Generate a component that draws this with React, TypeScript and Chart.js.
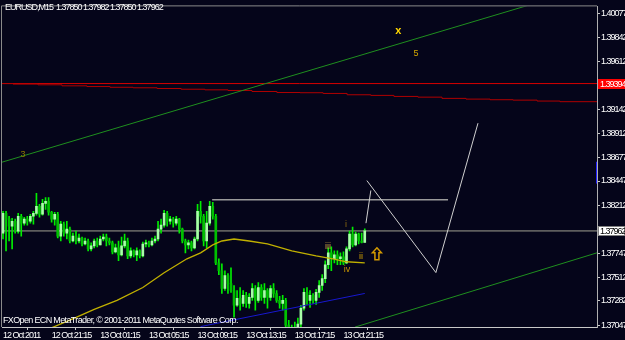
import React, { useEffect, useRef } from 'react';
import { Chart, registerables } from 'chart.js';

Chart.register(...registerables);

const FONT = "'Liberation Sans', 'DejaVu Sans', sans-serif";

const chartTitle = 'EURUSD,M15  1.37850 1.37982 1.37850 1.37962';
const copyrightText = 'FXOpen ECN MetaTrader, \u00A9 2001-2011 MetaQuotes Software Corp.';

const timeLabelBars = [0, 16, 32, 48, 64, 80, 96, 112];
const timeLabels = ['12 Oct 2011', '12 Oct 21:15', '13 Oct 01:15', '13 Oct 05:15', '13 Oct 09:15', '13 Oct 13:15', '13 Oct 17:15', '13 Oct 21:15'];
const priceTicks = [1.40077, 1.39842, 1.39612, 1.39142, 1.38912, 1.38677, 1.38447, 1.38212, 1.37747, 1.37512, 1.37282, 1.37047];

const opens = [
  1.37941, 1.38133, 1.38076, 1.38008, 1.38056, 1.37960, 1.38104, 1.38037, 1.38076, 1.38056,
  1.38104, 1.38133, 1.38201, 1.38124, 1.38230, 1.38249, 1.38143, 1.38076, 1.38124, 1.37912,
  1.38028, 1.37941, 1.37979, 1.37864, 1.37912, 1.37864, 1.37893, 1.37835, 1.37864, 1.37787,
  1.37816, 1.37864, 1.37826, 1.37883, 1.37902, 1.37864, 1.37845, 1.37758, 1.37797, 1.37729,
  1.37816, 1.37864, 1.37720, 1.37768, 1.37729, 1.37768, 1.37720, 1.37835, 1.37845, 1.37826,
  1.37864, 1.37883, 1.37979, 1.38018, 1.38133, 1.38056, 1.38076, 1.38037, 1.38076, 1.37979,
  1.37864, 1.37826, 1.37845, 1.37797, 1.37883, 1.38153, 1.38104, 1.37864, 1.38037, 1.38201,
  1.38104, 1.37652, 1.37575, 1.37402, 1.37527, 1.37450, 1.37383, 1.37239, 1.37306, 1.37258,
  1.37335, 1.37258, 1.37316, 1.37402, 1.37287, 1.37412, 1.37316, 1.37383, 1.37316, 1.37402,
  1.37354, 1.37287, 1.37258, 1.37287, 1.37046, 1.36998, 1.36979, 1.37017, 1.37056, 1.37210,
  1.37364, 1.37287, 1.37335, 1.37287, 1.37364, 1.37431, 1.37498, 1.37633, 1.37749, 1.37691,
  1.37729, 1.37691, 1.37710, 1.37652, 1.37787, 1.37931, 1.37826, 1.37931, 1.37864, 1.37850,
];
const highs = [
  1.38153, 1.38153, 1.38104, 1.38085, 1.38076, 1.38133, 1.38124, 1.38095, 1.38104, 1.38124,
  1.38153, 1.38326, 1.38220, 1.38268, 1.38287, 1.38287, 1.38153, 1.38143, 1.38143, 1.38056,
  1.38047, 1.38056, 1.37999, 1.37941, 1.37960, 1.37931, 1.37902, 1.37893, 1.37883, 1.37845,
  1.37883, 1.37893, 1.37912, 1.37931, 1.37931, 1.37893, 1.37864, 1.37835, 1.37864, 1.37902,
  1.37931, 1.37893, 1.37797, 1.37777, 1.37797, 1.37777, 1.37854, 1.37874, 1.37864, 1.37893,
  1.37912, 1.38056, 1.38076, 1.38162, 1.38153, 1.38104, 1.38095, 1.38104, 1.38085, 1.37989,
  1.37883, 1.37874, 1.37864, 1.37902, 1.38220, 1.38249, 1.38124, 1.38153, 1.38249, 1.38239,
  1.38124, 1.37691, 1.37643, 1.37575, 1.37547, 1.37604, 1.37431, 1.37383, 1.37412, 1.37383,
  1.37364, 1.37354, 1.37450, 1.37431, 1.37460, 1.37441, 1.37450, 1.37402, 1.37431, 1.37450,
  1.37383, 1.37325, 1.37335, 1.37306, 1.37094, 1.37046, 1.37075, 1.37114, 1.37239, 1.37402,
  1.37412, 1.37383, 1.37354, 1.37393, 1.37479, 1.37537, 1.37672, 1.37797, 1.37806, 1.37768,
  1.37768, 1.37749, 1.37758, 1.37806, 1.37960, 1.37999, 1.37951, 1.37941, 1.37941, 1.37982,
];
const lows = [
  1.37883, 1.37768, 1.37864, 1.37787, 1.37941, 1.37941, 1.37912, 1.38018, 1.38018, 1.38037,
  1.38028, 1.38114, 1.38095, 1.38114, 1.38172, 1.38114, 1.38047, 1.38018, 1.37893, 1.37864,
  1.37912, 1.37883, 1.37845, 1.37854, 1.37835, 1.37845, 1.37816, 1.37826, 1.37768, 1.37768,
  1.37797, 1.37806, 1.37826, 1.37864, 1.37816, 1.37826, 1.37739, 1.37749, 1.37672, 1.37720,
  1.37797, 1.37691, 1.37700, 1.37710, 1.37672, 1.37700, 1.37710, 1.37806, 1.37806, 1.37816,
  1.37845, 1.37864, 1.37941, 1.37999, 1.38008, 1.38028, 1.37999, 1.38018, 1.37941, 1.37845,
  1.37749, 1.37787, 1.37768, 1.37787, 1.37864, 1.38037, 1.37816, 1.37797, 1.38018, 1.38076,
  1.37633, 1.37537, 1.37354, 1.37383, 1.37354, 1.37364, 1.37123, 1.37229, 1.37191, 1.37229,
  1.37219, 1.37210, 1.37287, 1.37191, 1.37268, 1.37287, 1.37258, 1.37210, 1.37287, 1.37316,
  1.37268, 1.37210, 1.37191, 1.36998, 1.36931, 1.36902, 1.36921, 1.36969, 1.37027, 1.37191,
  1.37248, 1.37219, 1.37258, 1.37248, 1.37316, 1.37383, 1.37460, 1.37595, 1.37575, 1.37652,
  1.37633, 1.37633, 1.37633, 1.37643, 1.37768, 1.37806, 1.37816, 1.37835, 1.37845, 1.37850,
];
const closes = [
  1.38133, 1.38076, 1.38008, 1.38056, 1.37960, 1.38104, 1.38037, 1.38076, 1.38056, 1.38104,
  1.38133, 1.38201, 1.38124, 1.38230, 1.38249, 1.38143, 1.38076, 1.38124, 1.37912, 1.38028,
  1.37941, 1.37979, 1.37864, 1.37912, 1.37864, 1.37893, 1.37835, 1.37864, 1.37787, 1.37816,
  1.37864, 1.37826, 1.37883, 1.37902, 1.37864, 1.37845, 1.37758, 1.37797, 1.37729, 1.37816,
  1.37864, 1.37720, 1.37768, 1.37729, 1.37768, 1.37720, 1.37835, 1.37845, 1.37826, 1.37864,
  1.37883, 1.37979, 1.38018, 1.38133, 1.38056, 1.38076, 1.38037, 1.38076, 1.37979, 1.37864,
  1.37826, 1.37845, 1.37797, 1.37883, 1.38153, 1.38104, 1.37864, 1.38037, 1.38201, 1.38104,
  1.37652, 1.37575, 1.37402, 1.37527, 1.37450, 1.37383, 1.37239, 1.37306, 1.37258, 1.37335,
  1.37258, 1.37316, 1.37402, 1.37287, 1.37412, 1.37316, 1.37383, 1.37316, 1.37402, 1.37354,
  1.37287, 1.37258, 1.37287, 1.37046, 1.36998, 1.36979, 1.37017, 1.37056, 1.37210, 1.37364,
  1.37287, 1.37335, 1.37287, 1.37364, 1.37431, 1.37498, 1.37633, 1.37749, 1.37691, 1.37729,
  1.37691, 1.37710, 1.37652, 1.37787, 1.37931, 1.37826, 1.37931, 1.37864, 1.37850, 1.37962,
];

// moving average (yellow)
const maBars = [12, 22, 30, 37.5, 46, 53, 60.5, 65, 69, 72, 76, 81, 87, 95, 103, 108.5, 113, 119];
const maValues = [1.36972, 1.37094, 1.37200, 1.37287, 1.37412, 1.37556, 1.37691, 1.37749, 1.37826, 1.37864, 1.37883, 1.37864, 1.37835, 1.37768, 1.37720, 1.37691, 1.37662, 1.37652];

// blue line
const blueBars = [65, 119];
const blueValues = [1.37032, 1.37354];

// channel trendlines (green)
const upperTrendBars = [-1, 172.7];
const upperTrendValues = [1.38624, 1.40154];
const lowerTrendBars = [115.8, 195.4];
const lowerTrendValues = [1.37027, 1.37749];

// red levels
const redLevel = 1.39394;
const redLevelText = '1.39394';
const stepBars = [-1, 3.3, 11.5, 19.4, 27.6, 35.2, 42.8, 50.7, 58.6, 66.4, 74, 81.9, 90.1, 97.7, 105.3, 113.2, 121, 128.6, 136.5, 144.4, 152.3, 160.2, 167.8, 175.7, 183.2, 196];
const stepValues = [1.39394, 1.39389, 1.39382, 1.39372, 1.39365, 1.39358, 1.39353, 1.39346, 1.39339, 1.39333, 1.39327, 1.39317, 1.39307, 1.39305, 1.39298, 1.39285, 1.39279, 1.39269, 1.39262, 1.39250, 1.39243, 1.39237, 1.39233, 1.39224, 1.39218, 1.39218];

// grey levels
const bidPrice = 1.37962;
const bidText = '1.37962';
const resistanceBars = [68.8, 146.4];
const resistanceLevel = 1.38265;

// projection zigzag (white)
const zigA_Bars = [119.4, 121];
const zigA_Values = [1.38037, 1.38355];
const zigB_Bars = [119.7, 142.4, 156.25];
const zigB_Values = [1.38451, 1.37557, 1.39009];

// text marks
const markTexts = ['3', 'x', '5', 'i', 'iii', 'ii', 'iv'];
const markBars = [6.6, 130, 135.9, 112.8, 106.9, 117.8, 113.2];
const markValues = [1.38701, 1.39904, 1.39683, 1.38028, 1.37806, 1.37710, 1.37585];
const markColors = ['#8c7a00', '#ffd700', '#d4a800', '#8a6a10', '#c8a040', '#d0a000', '#c89600'];
const arrowBar = 123;
const arrowValue = 1.37739;
const blueMarkerValues = [1.38634, 1.38422];

const X_MIN = -0.33;
const X_MAX = 195.4;
const Y_MIN = 1.37028;
const Y_MAX = 1.40144;

const pts = (xs: number[], ys: number[]) => xs.map((x, i) => ({ x, y: ys[i] }));

const overlayPlugin = {
  id: 'mtOverlay',
  beforeDraw(chart: any) {
    const ctx = chart.ctx;
    ctx.save();
    ctx.fillStyle = '#05051a';
    ctx.fillRect(0, 0, chart.width, chart.height);
    ctx.restore();
    ctx.letterSpacing = '-1px';
  },
  afterDraw(chart: any) {
    const ctx = chart.ctx;
    const xs = chart.scales.x;
    const ys = chart.scales.y;
    const area = chart.chartArea;
    ctx.save();
    // frame top / left
    ctx.strokeStyle = '#8a8a8a';
    ctx.lineWidth = 1;
    ctx.beginPath();
    ctx.moveTo(1.5, area.top - 0.5);
    ctx.lineTo(area.right, area.top - 0.5);
    ctx.moveTo(1.5, area.top - 0.5);
    ctx.lineTo(1.5, area.bottom);
    ctx.stroke();

    // text marks
    ctx.letterSpacing = '0px';
    ctx.textAlign = 'center';
    ctx.textBaseline = 'middle';
    markTexts.forEach((t, i) => {
      ctx.fillStyle = markColors[i];
      ctx.font = (t === 'x' ? 'bold 11px ' : '9px ') + FONT;
      ctx.fillText(t, xs.getPixelForValue(markBars[i]), ys.getPixelForValue(markValues[i]));
    });

    // hollow arrow
    const ax = xs.getPixelForValue(arrowBar);
    const ay = ys.getPixelForValue(arrowValue);
    ctx.strokeStyle = '#d49a00';
    ctx.lineWidth = 1.5;
    ctx.beginPath();
    ctx.moveTo(ax, ay - 6);
    ctx.lineTo(ax + 4.5, ay - 1);
    ctx.lineTo(ax + 2, ay - 1);
    ctx.lineTo(ax + 2, ay + 6);
    ctx.lineTo(ax - 2, ay + 6);
    ctx.lineTo(ax - 2, ay - 1);
    ctx.lineTo(ax - 4.5, ay - 1);
    ctx.closePath();
    ctx.stroke();

    // blue marker on price axis
    ctx.strokeStyle = '#2020ff';
    ctx.lineWidth = 1;
    ctx.beginPath();
    ctx.moveTo(area.right - 0.5, ys.getPixelForValue(blueMarkerValues[0]));
    ctx.lineTo(area.right - 0.5, ys.getPixelForValue(blueMarkerValues[1]));
    ctx.stroke();

    // header and footer
    ctx.textAlign = 'left';
    ctx.textBaseline = 'middle';
    ctx.fillStyle = '#ffffff';
    ctx.font = '9px ' + FONT;
    ctx.letterSpacing = '-1px';
    ctx.fillText(chartTitle, 5, 8);
    ctx.letterSpacing = '-0.65px';
    ctx.fillText(copyrightText, 3, 320.5);

    // price boxes
    ctx.letterSpacing = '-1px';
    const ry = Math.round(ys.getPixelForValue(redLevel));
    ctx.fillStyle = '#ff0000';
    ctx.fillRect(area.right + 1, ry - 5, chart.width - area.right - 1, 10);
    ctx.fillStyle = '#ffffff';
    ctx.fillText(redLevelText, area.right + 3, ry + 0.5);

    const by = Math.round(ys.getPixelForValue(bidPrice));
    ctx.fillStyle = '#ffffff';
    ctx.fillRect(area.right + 1, by - 5, chart.width - area.right - 1, 10);
    ctx.strokeStyle = '#808080';
    ctx.strokeRect(area.right + 1.5, by - 4.5, chart.width - area.right - 2, 9);
    ctx.fillStyle = '#000000';
    ctx.fillText(bidText, area.right + 3, by + 0.5);
    ctx.restore();
  },
};

export default function App() {
  const canvasRef = useRef<HTMLCanvasElement | null>(null);

  useEffect(() => {
    const canvas = canvasRef.current;
    if (!canvas) return;
    const bars = opens.map((_, i) => i);
    const bodyColors = bars.map((i) => (closes[i] >= opens[i] ? '#a8ffa8' : '#00c000'));

    const lineBase = { type: 'line', pointRadius: 0, borderWidth: 1, tension: 0, fill: false };

    const chart = new Chart(canvas, {
      type: 'bar',
      data: {
        datasets: [
          {
            ...lineBase,
            label: 'MA',
            data: pts(maBars, maValues),
            borderColor: '#c0b000',
            borderWidth: 1.3,
            order: -1,
          },
          {
            ...lineBase,
            label: 'Blue',
            data: pts(blueBars, blueValues),
            borderColor: '#1818d0',
            order: -1,
          },
          {
            type: 'bar',
            label: 'Bodies',
            data: bars.map((i) => ({ x: i, y: [opens[i], closes[i]] })),
            backgroundColor: bodyColors,
            borderWidth: 0,
            barThickness: 2,
            minBarLength: 1,
            grouped: false,
            order: 1,
          },
          {
            type: 'bar',
            label: 'Wicks',
            data: bars.map((i) => ({ x: i, y: [lows[i], highs[i]] })),
            backgroundColor: '#00ee00',
            borderWidth: 0,
            barThickness: 1,
            grouped: false,
            order: 2,
          },
          {
            ...lineBase,
            label: 'Zig A',
            data: pts(zigA_Bars, zigA_Values),
            borderColor: '#cfcfcf',
            order: 3,
          },
          {
            ...lineBase,
            label: 'Zig B',
            data: pts(zigB_Bars, zigB_Values),
            borderColor: '#cfcfcf',
            order: 3,
          },
          {
            ...lineBase,
            label: 'Resistance',
            data: pts(resistanceBars, [resistanceLevel, resistanceLevel]),
            borderColor: '#9a9a9a',
            borderWidth: 1.6,
            order: 4,
          },
          {
            ...lineBase,
            label: 'Bid',
            data: pts([X_MIN - 1, X_MAX + 1], [bidPrice, bidPrice]),
            borderColor: '#5e5e5e',
            borderWidth: 1.6,
            order: 5,
          },
          {
            ...lineBase,
            label: 'Upper trend',
            data: pts(upperTrendBars, upperTrendValues),
            borderColor: '#1f8f1f',
            order: 5,
          },
          {
            ...lineBase,
            label: 'Lower trend',
            data: pts(lowerTrendBars, lowerTrendValues),
            borderColor: '#1f8f1f',
            order: 5,
          },
          {
            ...lineBase,
            label: 'Red step',
            data: pts(stepBars, stepValues),
            borderColor: '#b00000',
            stepped: true,
            order: 6,
          },
          {
            ...lineBase,
            label: 'Red level',
            data: pts([X_MIN - 1, X_MAX + 1], [redLevel, redLevel]),
            borderColor: '#d80000',
            order: 6,
          },
        ] as any,
      },
      options: {
        responsive: false,
        animation: false,
        devicePixelRatio: 1,
        events: [],
        layout: { padding: { left: 2, top: 3, right: 0, bottom: 0 } },
        plugins: { legend: { display: false }, tooltip: { enabled: false } },
        scales: {
          x: {
            type: 'linear',
            min: X_MIN,
            max: X_MAX,
            offset: false,
            afterFit: (scale: any) => { scale.height = 13; },
            afterBuildTicks: (scale: any) => { scale.ticks = timeLabelBars.map((v) => ({ value: v })); },
            grid: { display: true, drawOnChartArea: false, drawTicks: true, tickLength: 3, color: '#c8c8c8' },
            border: { display: true, color: '#c8c8c8', width: 1 },
            ticks: {
              autoSkip: false,
              maxRotation: 0,
              align: 'start',
              padding: 0,
              color: '#ffffff',
              font: { family: FONT, size: 9 },
              callback: (v: any) => timeLabels[timeLabelBars.indexOf(Number(v))] ?? '',
            },
          },
          y: {
            type: 'linear',
            position: 'right',
            min: Y_MIN,
            max: Y_MAX,
            afterFit: (scale: any) => { scale.width = 28; },
            afterBuildTicks: (scale: any) => { scale.ticks = priceTicks.map((v) => ({ value: v })); },
            grid: { display: true, drawOnChartArea: false, drawTicks: true, tickLength: 3, color: '#c8c8c8' },
            border: { display: true, color: '#b0b0b0', width: 1 },
            ticks: {
              autoSkip: false,
              padding: 1,
              color: '#ffffff',
              font: { family: FONT, size: 9 },
              callback: (v: any) => Number(v).toFixed(5),
            },
          },
        },
      } as any,
      plugins: [overlayPlugin],
    });
    return () => chart.destroy();
  }, []);

  return (
    <div style={{ position: 'fixed', left: 0, top: 0, width: 625, height: 340, background: '#05051a' }}>
      <canvas ref={canvasRef} width={625} height={340} style={{ display: 'block', width: 625, height: 340 }} />
    </div>
  );
}
